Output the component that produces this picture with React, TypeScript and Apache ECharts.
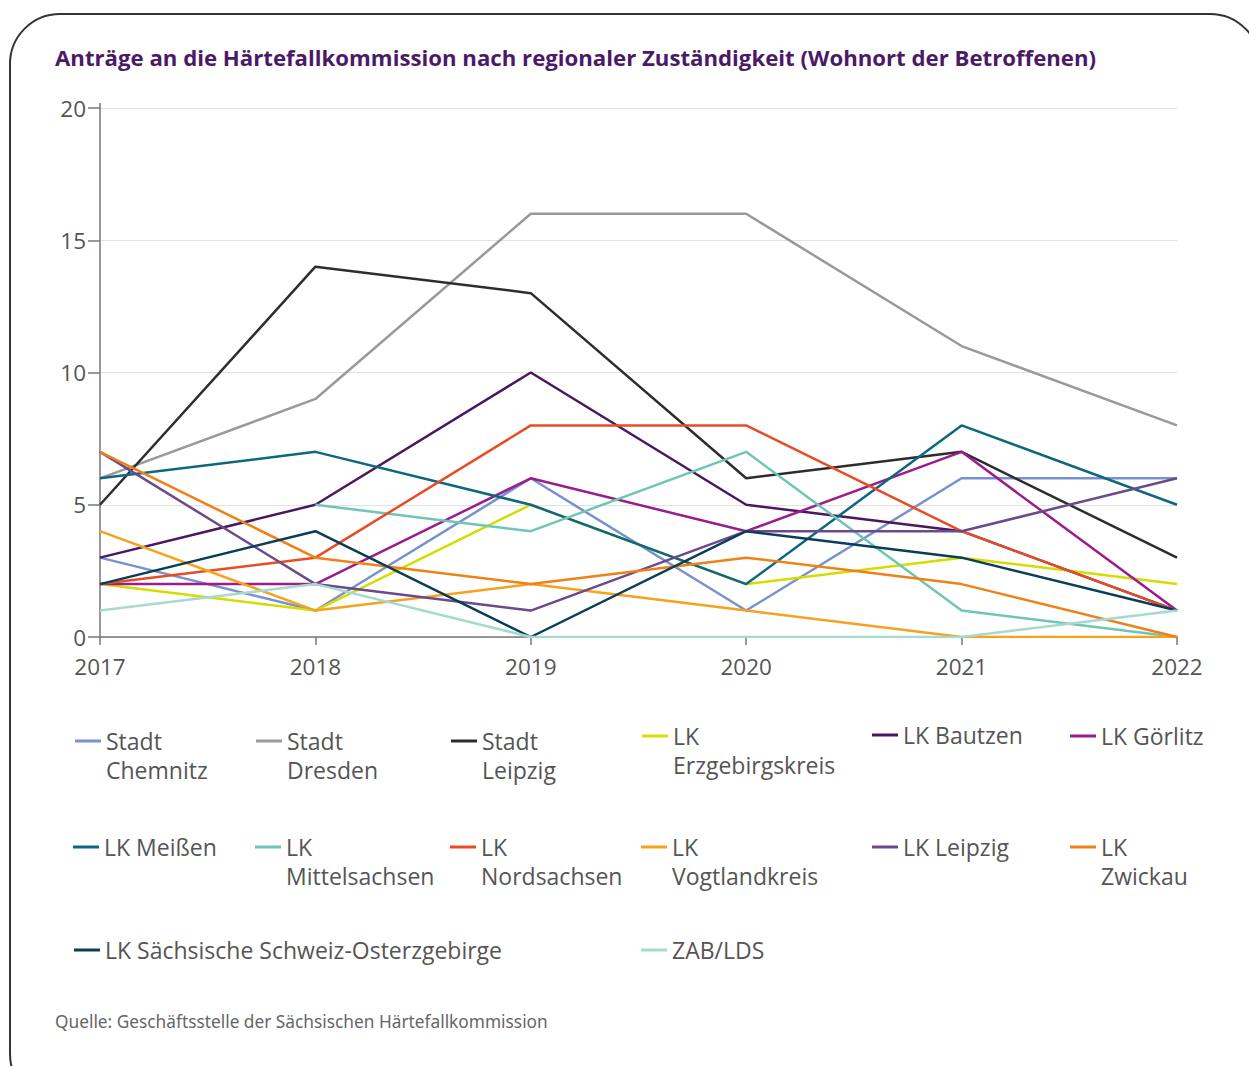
import React, { useEffect, useRef } from "react";
import * as echarts from "echarts";

const years = ["2017", "2018", "2019", "2020", "2021", "2022"];

const stadtChemnitz = [3, 1, 6, 1, 6, 6];
const stadtDresden = [6, 9, 16, 16, 11, 8];
const stadtLeipzig = [5, 14, 13, 6, 7, 3];
const lkErzgebirgskreis = [2, 1, 5, 2, 3, 2];
const lkBautzen = [3, 5, 10, 5, 4, 1];
const lkGoerlitz = [2, 2, 6, 4, 7, 1];
const lkMeissen = [6, 7, 5, 2, 8, 5];
const lkMittelsachsen = [null, 5, 4, 7, 1, 0];
const lkNordsachsen = [2, 3, 8, 8, 4, 1];
const lkVogtlandkreis = [4, 1, 2, 1, 0, 0];
const lkLeipzig = [7, 2, 1, 4, 4, 6];
const lkZwickau = [7, 3, 2, 3, 2, 0];
const lkSaechsSchweiz = [2, 4, 0, 4, 3, 1];
const zabLds = [1, 2, 0, 0, 0, 1];

const yTicks = [0, 5, 10, 15, 20];

type S = { name: string; label: string; color: string; data: (number | null)[]; lx: number; ly: number };

const seriesDefs: S[] = [
  { name: "Stadt Chemnitz", label: "Stadt\nChemnitz", color: "#7891cf", data: stadtChemnitz, lx: 75, ly: 741 },
  { name: "Stadt Dresden", label: "Stadt\nDresden", color: "#999999", data: stadtDresden, lx: 256, ly: 741 },
  { name: "Stadt Leipzig", label: "Stadt\nLeipzig", color: "#2d2d2d", data: stadtLeipzig, lx: 451, ly: 741 },
  { name: "LK Erzgebirgskreis", label: "LK\nErzgebirgskreis", color: "#d4dc00", data: lkErzgebirgskreis, lx: 642, ly: 736 },
  { name: "LK Bautzen", label: "LK Bautzen", color: "#4a1860", data: lkBautzen, lx: 872, ly: 735 },
  { name: "LK Görlitz", label: "LK Görlitz", color: "#9a1d8c", data: lkGoerlitz, lx: 1070, ly: 736 },
  { name: "LK Meißen", label: "LK Meißen", color: "#0e6780", data: lkMeissen, lx: 73, ly: 847 },
  { name: "LK Mittelsachsen", label: "LK\nMittelsachsen", color: "#70c6b4", data: lkMittelsachsen, lx: 255, ly: 847 },
  { name: "LK Nordsachsen", label: "LK\nNordsachsen", color: "#e64d25", data: lkNordsachsen, lx: 450, ly: 847 },
  { name: "LK Vogtlandkreis", label: "LK\nVogtlandkreis", color: "#f6a21e", data: lkVogtlandkreis, lx: 641, ly: 847 },
  { name: "LK Leipzig", label: "LK Leipzig", color: "#6b4a8b", data: lkLeipzig, lx: 872, ly: 847 },
  { name: "LK Zwickau", label: "LK\nZwickau", color: "#ef8117", data: lkZwickau, lx: 1070, ly: 847 },
  { name: "LK Sächsische Schweiz-Osterzgebirge", label: "LK Sächsische Schweiz-Osterzgebirge", color: "#0b3d59", data: lkSaechsSchweiz, lx: 74, ly: 950 },
  { name: "ZAB/LDS", label: "ZAB/LDS", color: "#a6dace", data: zabLds, lx: 641, ly: 950 },
];

const FONT = "Open Sans";
const LEG_FS = 23;
const LEG_LH = 29;
const AX_FS = 22.5;

export default function App() {
  const ref = useRef<HTMLDivElement>(null);
  useEffect(() => {
    document.body.style.margin = "0";
    const chart = echarts.init(ref.current!, null, { renderer: "svg" });

    const legends = seriesDefs.map((s) => {
      const lines = s.label.split("\n").length;
      const txt = lines > 1 ? "\n" + s.label : s.label;
      const nLines = lines > 1 ? lines + 1 : 1;
      const blockH = nLines * LEG_LH;
      return {
        show: true,
        data: [{ name: s.name, icon: "rect" }],
        left: s.lx,
        top: s.ly - blockH / 2,
        padding: 0,
        itemWidth: 26,
        itemHeight: 3,
        formatter: () => txt,
        selectedMode: false,
        textStyle: { fontFamily: FONT, fontSize: LEG_FS, lineHeight: LEG_LH, color: "#555555" },
      };
    });

    chart.setOption({
      animation: false,
      backgroundColor: "#ffffff",
      textStyle: { fontFamily: FONT },
      title: {
        text: "Anträge an die Härtefallkommission nach regionaler Zuständigkeit (Wohnort der Betroffenen)",
        left: 55,
        top: 46,
        padding: 0,
        textStyle: { fontFamily: FONT, fontSize: 22.2, fontWeight: "bold", color: "#4b1a67" },
      },
      legend: legends,
      grid: { left: 100, right: 72, top: 108, bottom: 429, containLabel: false },
      xAxis: {
        type: "category",
        data: years,
        boundaryGap: false,
        axisLine: { lineStyle: { color: "#777777", width: 1.5 } },
        axisTick: { show: true, length: 8, lineStyle: { color: "#777777", width: 1.5 } },
        axisLabel: { fontFamily: FONT, fontSize: AX_FS, lineHeight: 20, color: "#555555", margin: 19 },
        splitLine: { show: false },
      },
      yAxis: {
        type: "value",
        min: 0,
        max: 20,
        interval: 5,
        axisLine: { show: true, lineStyle: { color: "#777777", width: 1.5 } },
        axisTick: { show: true, length: 12, lineStyle: { color: "#777777", width: 1.5 } },
        axisLabel: {
          fontFamily: FONT,
          fontSize: AX_FS,
          lineHeight: 20,
          color: "#555555",
          margin: 14,
          formatter: (v: number) => (yTicks.includes(v) ? String(v) : ""),
        },
        splitLine: { show: true, lineStyle: { color: "#e2e2e2", width: 1 } },
      },
      series: seriesDefs.map((s) => ({
        name: s.name,
        type: "line",
        data: s.data,
        symbol: "none",
        color: s.color,
        lineStyle: { color: s.color, width: 2.5 },
        connectNulls: false,
      })),
      graphic: [
        {
          type: "rect",
          shape: { x: 10, y: 14, width: 1250, height: 1090, r: 50 },
          style: { fill: "none", stroke: "#333333", lineWidth: 2 },
          silent: true,
          z: 100,
        },
        {
          type: "line",
          shape: { x1: 100, y1: 103, x2: 100, y2: 108 },
          style: { stroke: "#777777", lineWidth: 1.5 },
          silent: true,
        },
        {
          type: "text",
          left: 55,
          top: 1013,
          style: {
            text: "Quelle: Geschäftsstelle der Sächsischen Härtefallkommission",
            fontFamily: "Noto Sans",
            fontSize: 17.3,
            fill: "#666666",
          },
        },
      ],
    });
    return () => chart.dispose();
  }, []);
  return <div ref={ref} style={{ width: 1249, height: 1066 }} />;
}
